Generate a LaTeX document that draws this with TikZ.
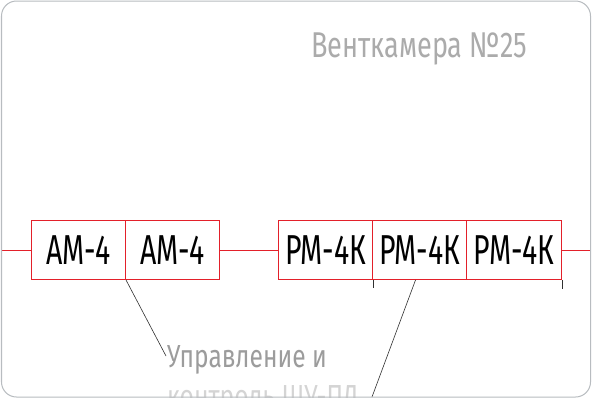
\documentclass[tikz,border=0pt]{standalone}
\usepackage{fontspec}
\setmainfont{Fira Sans}
\newfontfamily\boxfont[FakeStretch=0.68]{Fira Sans}
\newfontfamily\titlefont[FakeStretch=0.755]{Fira Sans}
\newfontfamily\notefont[FakeStretch=0.77]{Fira Sans}
\usetikzlibrary{calc}
\definecolor{wirered}{HTML}{E3202A}
\definecolor{framegray}{HTML}{B8BCC0}
\definecolor{leadgray}{HTML}{303030}
\definecolor{titlegray}{HTML}{ABABAB}
\definecolor{noteone}{HTML}{9C9C9C}
\definecolor{notetwo}{HTML}{D4D4D4}
\tikzset{
  unitbox/.style={draw=wirered, line width=1.1bp, minimum width=94bp, minimum height=59bp,
    inner sep=0pt, font=\boxfont\fontsize{42}{42}\selectfont, text=black},
  wireline/.style={draw=wirered, line width=1.1bp},
  leader/.style={draw=leadgray, line width=0.6bp},
  tickmark/.style={draw=leadgray, line width=0.8bp},
}
\begin{document}
\begin{tikzpicture}[x=1bp,y=-1bp]
\useasboundingbox (0,0) rectangle (592,400);
\fill[white] (0,0) rectangle (592,400);
\begin{scope}
\clip[rounded corners=15bp] (1.5,1) rectangle (590.5,397);
% title
\node[anchor=base west, inner sep=0pt, text=titlegray,
      font=\titlefont\fontsize{36}{36}\selectfont] (title) at (311,57) {Венткамера №25};
% boxes
\node[unitbox] (am1) at (78.5,250) {АМ-4};
\node[unitbox] (am2) at (172.5,250) {АМ-4};
\node[unitbox] (pm1) at (325.5,250) {РМ-4К};
\node[unitbox] (pm2) at (419.5,250) {РМ-4К};
\node[unitbox, minimum width=95bp] (pm3) at (514,250) {РМ-4К};
\coordinate (win) at (0,250.5);
\coordinate (wout) at (592,250.5);
\draw[wireline] (win) -- (am1.west |- win);
\draw[wireline] (am2.east |- win) -- (pm1.west |- win);
\draw[wireline] (pm3.east |- win) -- (wout);
% ticks
\coordinate (t1) at ($(pm1.south east)+(0,8)$);
\coordinate (t2) at ($(pm3.south east)+(0,9)$);
\draw[tickmark] (pm1.south east) -- (t1);
\draw[tickmark] (pm3.south east) -- (t2);
% note
\node[anchor=base west, inner sep=0pt, text=noteone,
      font=\notefont\fontsize{32}{32}\selectfont] (note) at (167,367) {Управление и};
\node[anchor=base west, inner sep=0pt, text=notetwo,
      font=\notefont\fontsize{32}{32}\selectfont] (note2) at (167,407) {контроль ШУ-ПД};
\coordinate (n1) at (166,356);
\coordinate (n2) at (369,405);
\draw[leader] (am1.south east) -- (n1);
\draw[leader] ($(pm2.south)+(-4,0)$) -- (n2);
\end{scope}
\draw[framegray, line width=1bp, rounded corners=15bp] (1.5,1) rectangle (590.5,397);
\end{tikzpicture}
\end{document}
